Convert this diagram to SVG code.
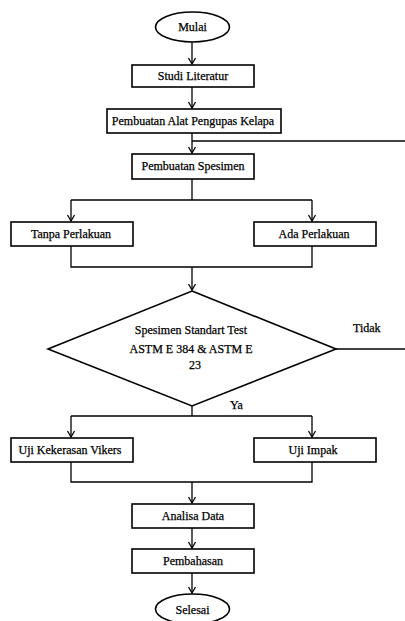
<svg xmlns="http://www.w3.org/2000/svg" width="405" height="621" viewBox="0 0 405 621">
<style>
.box{fill:#fff;stroke:#000;stroke-width:1.6}
.ln{fill:none;stroke:#000;stroke-width:1.3}
.t{font-family:"Liberation Serif","Times New Roman",serif;font-size:12px;fill:#000;stroke:#000;stroke-width:0.25;text-anchor:middle}
.tl{font-family:"Liberation Serif","Times New Roman",serif;font-size:12px;fill:#000;stroke:#000;stroke-width:0.25}
</style>
<defs>
<marker id="ah" markerUnits="userSpaceOnUse" markerWidth="10" markerHeight="10" refX="7" refY="4" orient="auto" viewBox="0 0 10 8">
<path d="M1,0.5 L7,4 L1,7.5" fill="none" stroke="#000" stroke-width="1.3"/>
</marker>
</defs>
<rect width="405" height="621" fill="#fff"/>
<g id="connectors">
<line class="ln" x1="192" y1="42" x2="192" y2="64" marker-end="url(#ah)"/>
<line class="ln" x1="192" y1="87" x2="192" y2="108" marker-end="url(#ah)"/>
<line class="ln" x1="192" y1="133" x2="192" y2="153" marker-end="url(#ah)"/>
<line class="ln" x1="192" y1="141" x2="405" y2="141"/>
<polyline class="ln" points="192,179 192,200"/>
<polyline class="ln" points="71,200 312,200"/>
<line class="ln" x1="71" y1="200" x2="71" y2="221" marker-end="url(#ah)"/>
<line class="ln" x1="312" y1="200" x2="312" y2="221" marker-end="url(#ah)"/>
<polyline class="ln" points="71,246 71,267 312,267 312,246"/>
<line class="ln" x1="192" y1="267" x2="192" y2="290" marker-end="url(#ah)"/>
<line class="ln" x1="336" y1="349" x2="405" y2="349"/>
<polyline class="ln" points="192,406 192,416"/>
<polyline class="ln" points="71,416 312,416"/>
<line class="ln" x1="71" y1="416" x2="71" y2="437" marker-end="url(#ah)"/>
<line class="ln" x1="312" y1="416" x2="312" y2="437" marker-end="url(#ah)"/>
<polyline class="ln" points="71,462 71,482 312,482 312,462"/>
<line class="ln" x1="192" y1="482" x2="192" y2="503" marker-end="url(#ah)"/>
<line class="ln" x1="192" y1="528" x2="192" y2="548" marker-end="url(#ah)"/>
<line class="ln" x1="192" y1="573" x2="192" y2="593" marker-end="url(#ah)"/>
</g>
<g id="mulai">
<ellipse class="box" cx="192.5" cy="27" rx="37" ry="15"/>
<text class="t" x="192.5" y="31">Mulai</text>
</g>
<g id="studi">
<rect class="box" x="132" y="65" width="122" height="22"/>
<text class="t" x="193" y="80">Studi Literatur</text>
</g>
<g id="pembuatan-alat">
<rect class="box" x="107" y="109" width="174" height="24"/>
<text class="t" x="193" y="125">Pembuatan Alat Pengupas Kelapa</text>
</g>
<g id="pembuatan-spesimen">
<rect class="box" x="132" y="154" width="122" height="25"/>
<text class="t" x="193" y="170">Pembuatan Spesimen</text>
</g>
<g id="tanpa">
<rect class="box" x="11" y="222" width="122" height="24"/>
<text class="t" x="71" y="238">Tanpa Perlakuan</text>
</g>
<g id="ada">
<rect class="box" x="254" y="222" width="122" height="24"/>
<text class="t" x="314" y="238">Ada Perlakuan</text>
</g>
<g id="decision">
<polygon class="box" points="192,291 336,349 192,406 48,349"/>
<text class="t" x="191" y="334">Spesimen Standart Test</text>
<text class="t" x="191" y="353">ASTM E 384 &amp; ASTM E</text>
<text class="t" x="195" y="369">23</text>
</g>
<g id="label-tidak">
<text class="tl" x="353" y="332">Tidak</text>
</g>
<g id="label-ya">
<text class="tl" x="230" y="409">Ya</text>
</g>
<g id="vikers">
<rect class="box" x="11" y="438" width="122" height="24"/>
<text class="t" x="70" y="454">Uji Kekerasan Vikers</text>
</g>
<g id="impak">
<rect class="box" x="254" y="438" width="122" height="24"/>
<text class="t" x="313" y="454">Uji Impak</text>
</g>
<g id="analisa">
<rect class="box" x="132" y="504" width="122" height="24"/>
<text class="t" x="193" y="520">Analisa Data</text>
</g>
<g id="pembahasan">
<rect class="box" x="132" y="549" width="122" height="24"/>
<text class="t" x="193" y="565">Pembahasan</text>
</g>
<g id="selesai">
<ellipse class="box" cx="192.5" cy="609" rx="37" ry="15"/>
<text class="t" x="192.5" y="614">Selesai</text>
</g>
</svg>
